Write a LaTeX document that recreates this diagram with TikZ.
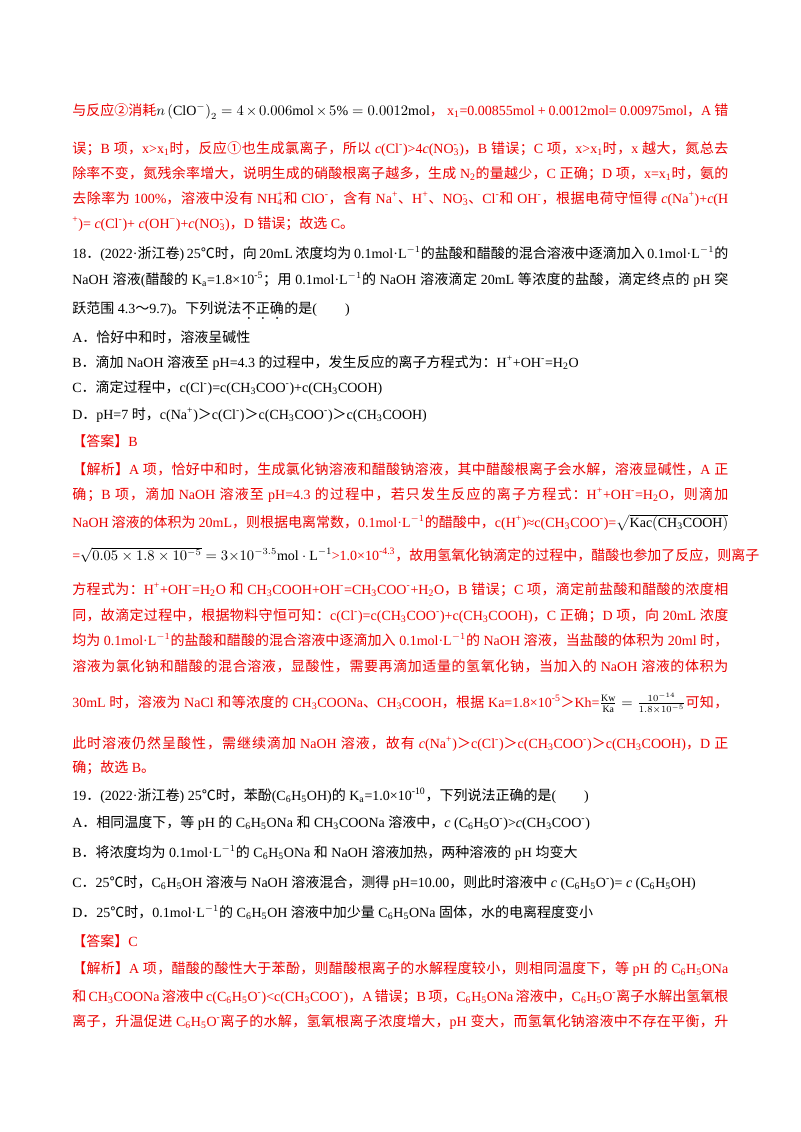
\documentclass[tikz,border=0pt]{standalone}
\usetikzlibrary{calc}
\usepackage{fontspec}
\setmainfont{Liberation Serif}
\newfontfamily\cjk{Noto Sans CJK SC}
\newfontfamily\latin{Liberation Serif}
\newXeTeXintercharclass\cjkclass
\count255="4E00 \loop \XeTeXcharclass\count255=\cjkclass \advance\count255 1 \ifnum\count255<"A000 \repeat
\count255="3000 \loop \XeTeXcharclass\count255=\cjkclass \advance\count255 1 \ifnum\count255<"3040 \repeat
\count255="FF01 \loop \XeTeXcharclass\count255=\cjkclass \advance\count255 1 \ifnum\count255<"FF70 \repeat
\count255="2460 \loop \XeTeXcharclass\count255=\cjkclass \advance\count255 1 \ifnum\count255<"2470 \repeat
\XeTeXcharclass"2103=\cjkclass
\XeTeXinterchartoks 0 \cjkclass = {\cjk}
\XeTeXinterchartoks 4095 \cjkclass = {\cjk}
\XeTeXinterchartoks \cjkclass 0 = {\latin}
\XeTeXinterchartoks \cjkclass 4095 = {\latin}
\XeTeXinterchartoks \cjkclass \cjkclass = {\hskip 0pt plus 2pt}
\newcommand\sbs[1]{\textsubscript{#1}}
\newcommand\sps[1]{\textsuperscript{#1}}
\newcommand\sbp[2]{\setbox0\hbox{\textsubscript{#1}}\setbox2\hbox{\textsuperscript{#2}}%
 \ifdim\wd0>\wd2 \rlap{\box2}\box0\else\rlap{\box0}\box2\fi}
\newcommand\fl[1]{\hbox to 492pt{#1}}
\newcommand\mL{0.1mol·L$^{-1}$}
\definecolor{ansred}{RGB}{235,0,0}
\tikzset{ln/.style={anchor=base west,inner sep=0pt,font=\fontsize{10.5}{12}\selectfont},
 rd/.style={ln,text=ansred},bk/.style={ln,text=black}}
\begin{document}
\XeTeXinterchartokenstate=1
\begin{tikzpicture}[x=0.75pt,y=-0.75pt]
\useasboundingbox[fill=white] (0,0) rectangle (800,1132);
\node[rd] (l1) at (72,115) {\fl{与反应②消耗\textcolor{black}{$n\left(\mathrm{ClO^-}\right)_2=4\times0.006\mathrm{mol}\times5\%=0.0012\mathrm{mol}$}， x\sbs1=0.00855mol + 0.0012mol= 0.00975mol，A 错}};
\node[rd] (l2) at (72,153) {\fl{误；B 项，x>x\sbs1时，反应①也生成氯离子，所以 \textit{c}(Cl\sps-)>4\textit{c}(NO\sbp3-)，B 错误；C 项，x>x\sbs1时，x 越大，氮总去}};
\node[rd] (l3) at (72,178) {\fl{除率不变，氮残余率增大，说明生成的硝酸根离子越多，生成 N\sbs2的量越少，C 正确；D 项，x=x\sbs1时，氨的}};
\node[rd] (l4) at (72,203) {\fl{去除率为 100\%，溶液中没有 NH\sbp4+和 ClO\sps-，含有 Na\sps+、H\sps+、NO\sbp3-、Cl\sps-和 OH\sps-，根据电荷守恒得 \textit{c}(Na\sps+)+\textit{c}(H}};
\node[rd] (l5) at (72,228) {\sps+)= \textit{c}(Cl\sps-)+ \textit{c}(OH\sps−)+\textit{c}(NO\sbp3-)，D 错误；故选 C。};
\node[bk] (l6) at (72,258) {\fl{18．(2022·浙江卷) 25℃时，向 20mL 浓度均为 \mL 的盐酸和醋酸的混合溶液中逐滴加入 \mL 的}};
\node[bk] (l7) at (72,284) {\fl{NaOH 溶液(醋酸的 K\sbs{a}=1.8×10\sps{-5}；用 \mL 的 NaOH 溶液滴定 20mL 等浓度的盐酸，滴定终点的 pH 突}};
\node[bk] (l8) at (72,313) {跃范围 4.3～9.7)。下列说法};
\node[bk] (l8b) at (l8.base east) {不正确};
\node[bk] (l8c) at (l8b.base east) {的是(\qquad)};
\foreach \i in {1,3,5} \fill ($(l8b.base west)!\i/6!(l8b.base east)+(0,5)$) circle (1);
\node[bk] (l9) at (72,342) {A．恰好中和时，溶液呈碱性};
\node[bk] (l10) at (72,367) {B．滴加 NaOH 溶液至 pH=4.3 的过程中，发生反应的离子方程式为：H\sps++OH\sps-=H\sbs2O};
\node[bk] (l11) at (72,392) {C．滴定过程中，c(Cl\sps-)=c(CH\sbs3COO\sps-)+c(CH\sbs3COOH)};
\node[bk] (l12) at (72,419) {D．pH=7 时，c(Na\sps+)＞c(Cl\sps-)＞c(CH\sbs3COO\sps-)＞c(CH\sbs3COOH)};
\node[rd] (l13) at (72,446) {【答案】B};
\node[rd] (l14) at (72,474) {\fl{【解析】A 项，恰好中和时，生成氯化钠溶液和醋酸钠溶液，其中醋酸根离子会水解，溶液显碱性，A 正}};
\node[rd] (l15) at (72,499) {\fl{确；B 项，滴加 NaOH 溶液至 pH=4.3 的过程中，若只发生反应的离子方程式：H\sps++OH\sps-=H\sbs2O，则滴加}};
\node[rd] (l16) at (72,527) {\fl{NaOH 溶液的体积为 20mL，则根据电离常数，\mL 的醋酸中，c(H\sps+)≈c(CH\sbs3COO\sps-)=\textcolor{black}{$\sqrt{\mathrm{Kac(CH_3COOH)}}$}}};
\node[rd] (l17) at (72,560) {\fl{=\textcolor{black}{$\sqrt{0.05\times1.8\times10^{-5}}=3\times10^{-3.5}\mathrm{mol\cdot L^{-1}}$}>1.0×10\sps{-4.3}，故用氢氧化钠滴定的过程中，醋酸也参加了反应，则离子}};
\node[rd] (l18) at (72,594) {\fl{方程式为：H\sps++OH\sps-=H\sbs2O 和 CH\sbs3COOH+OH\sps-=CH\sbs3COO\sps-+H\sbs2O，B 错误；C 项，滴定前盐酸和醋酸的浓度相}};
\node[rd] (l19) at (72,620) {\fl{同，故滴定过程中，根据物料守恒可知：c(Cl\sps-)=c(CH\sbs3COO\sps-)+c(CH\sbs3COOH)，C 正确；D 项，向 20mL 浓度}};
\node[rd] (l20) at (72,645) {\fl{均为 \mL 的盐酸和醋酸的混合溶液中逐滴加入 \mL 的 NaOH 溶液，当盐酸的体积为 20ml 时，}};
\node[rd] (l21) at (72,671) {\fl{溶液为氯化钠和醋酸的混合溶液，显酸性，需要再滴加适量的氢氧化钠，当加入的 NaOH 溶液的体积为}};
\node[rd] (l22) at (72,707) {\fl{30mL 时，溶液为 NaCl 和等浓度的 CH\sbs3COONa、CH\sbs3COOH，根据 Ka=1.8×10\sps{-5}＞Kh=\textcolor{black}{$\frac{\mathrm{Kw}}{\mathrm{Ka}}=\frac{10^{-14}}{1.8\times10^{-5}}$}可知，}};
\node[rd] (l23) at (72,748) {\fl{此时溶液仍然呈酸性，需继续滴加 NaOH 溶液，故有 \textit{c}(Na\sps+)＞c(Cl\sps-)＞c(CH\sbs3COO\sps-)＞c(CH\sbs3COOH)，D 正}};
\node[rd] (l24) at (72,772) {确；故选 B。};
\node[bk] (l25) at (72,800) {19．(2022·浙江卷) 25℃时，苯酚(C\sbs6H\sbs5OH)的 K\sbs{a}=1.0×10\sps{-10}，下列说法正确的是(\qquad)};
\node[bk] (l26) at (72,827) {A．相同温度下，等 pH 的 C\sbs6H\sbs5ONa 和 CH\sbs3COONa 溶液中，\textit{c} (C\sbs6H\sbs5O\sps-)>\textit{c}(CH\sbs3COO\sps-)};
\node[bk] (l27) at (72,857) {B．将浓度均为 \mL 的 C\sbs6H\sbs5ONa 和 NaOH 溶液加热，两种溶液的 pH 均变大};
\node[bk] (l28) at (72,887) {C．25℃时，C\sbs6H\sbs5OH 溶液与 NaOH 溶液混合，测得 pH=10.00，则此时溶液中 \textit{c} (C\sbs6H\sbs5O\sps-)= \textit{c} (C\sbs6H\sbs5OH)};
\node[bk] (l29) at (72,917) {D．25℃时，\mL 的 C\sbs6H\sbs5OH 溶液中加少量 C\sbs6H\sbs5ONa 固体，水的电离程度变小};
\node[rd] (l30) at (72,946) {【答案】C};
\node[rd] (l31) at (72,973) {\fl{【解析】A 项，醋酸的酸性大于苯酚，则醋酸根离子的水解程度较小，则相同温度下，等 pH 的 C\sbs6H\sbs5ONa}};
\node[rd] (l32) at (72,1001) {\fl{和 CH\sbs3COONa 溶液中 c(C\sbs6H\sbs5O\sps-)<c(CH\sbs3COO\sps-)，A 错误；B 项，C\sbs6H\sbs5ONa 溶液中，C\sbs6H\sbs5O\sps-离子水解出氢氧根}};
\node[rd] (l33) at (72,1026) {\fl{离子，升温促进 C\sbs6H\sbs5O\sps-离子的水解，氢氧根离子浓度增大，pH 变大，而氢氧化钠溶液中不存在平衡，升}};
\end{tikzpicture}
\end{document}
